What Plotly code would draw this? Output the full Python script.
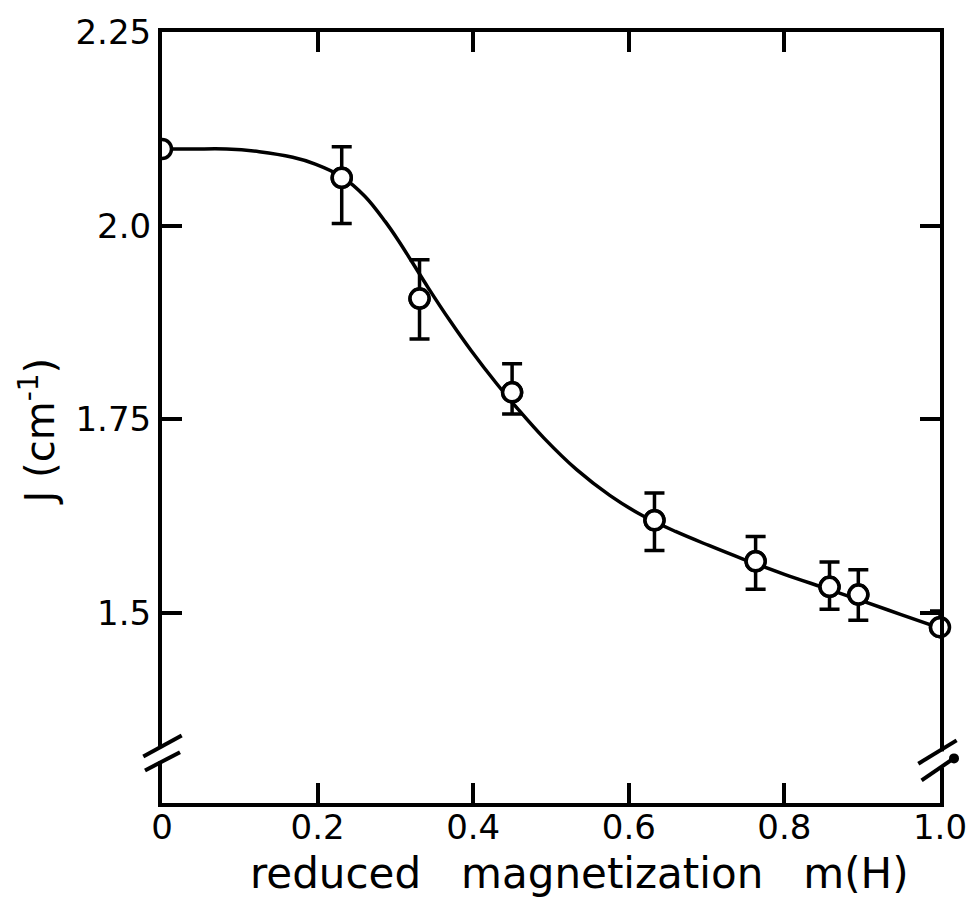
import plotly.graph_objects as go

# ---- data ----
m_points = [0.0, 0.231, 0.331, 0.450, 0.633, 0.763, 0.858, 0.895, 1.0]
J_points = [2.099, 2.062, 1.906, 1.785, 1.620, 1.567, 1.534, 1.524, 1.482]
err_plus = [0.0, 0.040, 0.050, 0.037, 0.035, 0.032, 0.032, 0.032, 0.021]
err_minus = [0.0, 0.059, 0.052, 0.028, 0.039, 0.036, 0.029, 0.033, 0.0]

curve_m = [0.0, 0.04, 0.083, 0.125, 0.168, 0.197, 0.231, 0.261, 0.287, 0.304,
           0.321, 0.342, 0.37, 0.397, 0.43, 0.457, 0.491, 0.533, 0.576, 0.618,
           0.66, 0.703, 0.746, 0.8, 0.858, 0.9, 0.95, 1.0]
curve_J = [2.099, 2.099, 2.099, 2.0956, 2.0883, 2.0796, 2.0633, 2.0378, 2.0053, 1.9807,
           1.9538, 1.9202, 1.8776, 1.8393, 1.7964, 1.764, 1.7259, 1.6852, 1.6517, 1.6257,
           1.6055, 1.5874, 1.5702, 1.5502, 1.5305, 1.5158, 1.4983, 1.4808]

x_tickvals = [0, 0.2, 0.4, 0.6, 0.8, 1.0]
x_ticktext = ["0", "0.2", "0.4", "0.6", "0.8", "1.0"]
y_tickvals = [1.5, 1.75, 2.0, 2.25]
y_ticktext = ["1.5", "1.75", "2.0", "2.25"]

FONT = "DejaVu Sans"
BLACK = "black"
MARKER = dict(symbol="circle", size=19, color="white", line=dict(color=BLACK, width=3.5))

fig = go.Figure()

# fitted curve
fig.add_trace(go.Scatter(
    x=curve_m, y=curve_J, mode="lines",
    line=dict(color=BLACK, width=3.5, shape="spline"),
    hoverinfo="skip", showlegend=False,
))

# all points with error bars, clipped at the frame
fig.add_trace(go.Scatter(
    x=m_points, y=J_points, mode="markers", marker=MARKER,
    error_y=dict(type="data", symmetric=False,
                 array=err_plus, arrayminus=err_minus,
                 color=BLACK, thickness=3.5, width=10),
    cliponaxis=True, showlegend=False,
))

# interior + end markers drawn unclipped on top
fig.add_trace(go.Scatter(
    x=m_points[1:], y=J_points[1:], mode="markers", marker=MARKER,
    cliponaxis=False, showlegend=False,
))

# axis break marks (decoration, positioned in pixels around axis anchor)
def brk(xa, ya, s1, s2, gap, blob=None):
    shapes = []
    shapes.append(dict(type="rect", xref="paper", yref="paper",
                       xsizemode="pixel", ysizemode="pixel",
                       xanchor=xa, yanchor=ya,
                       x0=-4, x1=4, y0=gap[0], y1=gap[1],
                       fillcolor="white", line=dict(width=0), layer="above"))
    for (xa0, ya0, xa1, ya1) in (s1, s2):
        shapes.append(dict(type="line", xref="paper", yref="paper",
                           xsizemode="pixel", ysizemode="pixel",
                           xanchor=xa, yanchor=ya,
                           x0=xa0, y0=ya0, x1=xa1, y1=ya1,
                           line=dict(color=BLACK, width=4), layer="above"))
    if blob:
        bx, by, r = blob
        shapes.append(dict(type="circle", xref="paper", yref="paper",
                           xsizemode="pixel", ysizemode="pixel",
                           xanchor=xa, yanchor=ya,
                           x0=bx - r, x1=bx + r, y0=by - r, y1=by + r,
                           fillcolor=BLACK, line=dict(width=0), layer="above"))
    return shapes

PLOT_H = 778.0
PLOT_W = 784.7
shapes = []
shapes += brk(0, (803 - 752) / PLOT_H, (-18.7, -4, 19.7, 17), (-17, -18, 18, 0.3), (-9, 6))
shapes += brk(1, (803 - 760) / PLOT_H, (-21.7, -3.3, 16.6, 20), (-18.4, -20, 13.3, 1.7), (-7, 9),
              blob=(14, 2, 5))

fig.update_layout(
    width=979, height=909,
    margin=dict(l=162, r=32, t=25, b=106, pad=0),
    paper_bgcolor="white", plot_bgcolor="white",
    font=dict(family=FONT, color=BLACK, size=34),
    shapes=shapes,
    showlegend=False,
    annotations=[
        dict(text="reduced   magnetization   m(H)", xref="paper", yref="paper",
             x=(583 - 162) / PLOT_W, y=(803 - 874) / PLOT_H,
             xanchor="center", yanchor="middle", showarrow=False,
             font=dict(family=FONT, size=42, color=BLACK)),
        dict(text="J (cm<sup>-1</sup>)", xref="paper", yref="paper",
             x=(37 - 162) / PLOT_W, y=(803 - 428) / PLOT_H,
             xanchor="center", yanchor="middle", showarrow=False, textangle=-90,
             font=dict(family=FONT, size=40, color=BLACK)),
    ],
)

fig.update_xaxes(
    range=[0, 1.0], tickvals=x_tickvals, ticktext=x_ticktext,
    showgrid=False, zeroline=False,
    showline=True, linewidth=4, linecolor=BLACK, mirror="ticks",
    ticks="inside", ticklen=20, tickwidth=3.5, tickcolor=BLACK,
    ticklabelstandoff=-9,
    tickfont=dict(family=FONT, size=34, color=BLACK),
)
fig.update_yaxes(
    range=[1.2551, 2.25], tickvals=y_tickvals, ticktext=y_ticktext,
    showgrid=False, zeroline=False,
    showline=True, linewidth=4, linecolor=BLACK, mirror="ticks",
    ticks="inside", ticklen=20, tickwidth=3.5, tickcolor=BLACK,
    tickfont=dict(family=FONT, size=34, color=BLACK),
)

fig.write_html("out.html")
